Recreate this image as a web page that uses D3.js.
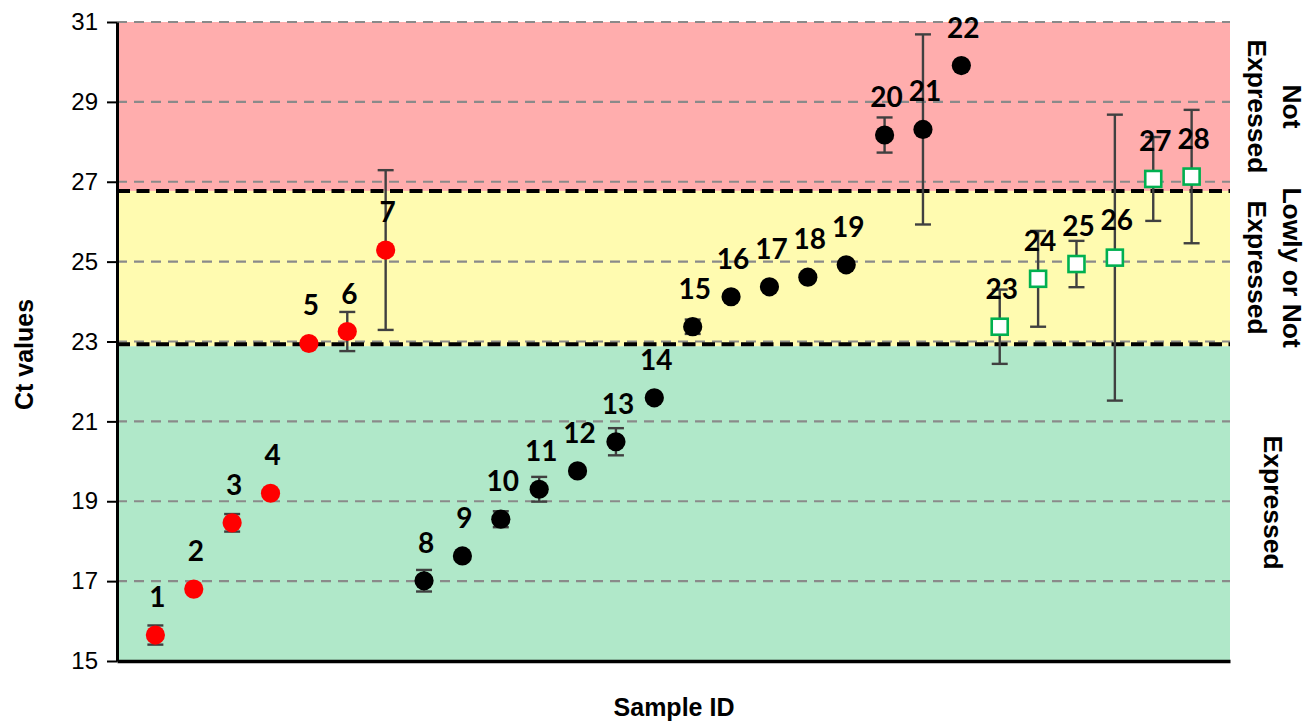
<!DOCTYPE html>
<html>
<head>
<meta charset="utf-8">
<script src="https://cdn.jsdelivr.net/npm/d3@7"></script>
<style>
  html, body { margin: 0; padding: 0; background: #fff; }
  svg { display: block; }
</style>
</head>
<body>
<svg id="chart" width="1311" height="721"></svg>
<script>
// ---- Data ----
const sampleIds = d3.range(1, 29);
const ctValues = [15.65, 16.80, 18.46, 19.20, 22.95, 23.25, 25.29, 17.01, 17.63, 18.55,
                  19.30, 19.76, 20.49, 21.59, 23.37, 24.12, 24.37, 24.61, 24.92, 28.17,
                  28.31, 29.91, 23.37, 24.57, 24.94, 25.10, 27.07, 27.13];
const ctErrors = [0.24, 0.05, 0.22, 0.04, 0.02, 0.49, 2.00, 0.27, 0.05, 0.20,
                  0.31, 0.05, 0.34, 0.05, 0.18, 0.05, 0.05, 0.05, 0.06, 0.44,
                  2.38, 0.06, 0.93, 1.20, 0.58, 3.58, 1.05, 1.67];
const groups = ["red","red","red","red","red","red","red",
                "black","black","black","black","black","black","black","black","black","black","black","black","black","black","black",
                "green","green","green","green","green","green"];
const yTicks = [15, 17, 19, 21, 23, 25, 27, 29, 31];
const thresholds = [26.77, 22.93];
const bands = [
  {name: "Not expressed", hi: 31, lo: 26.77, color: "#ffadad"},
  {name: "Lowly", hi: 26.77, lo: 22.88, color: "#fffbb0"},
  {name: "Expressed", hi: 22.88, lo: 15, color: "#b0e8c9"}
];
const bandLabels = [
  {lines: ["Not", "Expressed"], mid: (31 + 26.77) / 2},
  {lines: ["Lowly or Not", "Expressed"], mid: (26.77 + 22.93) / 2},
  {lines: ["Expressed"], mid: (22.93 + 15) / 2}
];

const data = sampleIds.map((id, i) => ({id, ct: ctValues[i], err: ctErrors[i], group: groups[i]}));

// ---- Layout ----
const svg = d3.select("#chart");
const plotL = 117, plotR = 1230, plotT = 22, plotB = 661;
const x = d3.scaleLinear().domain([0, 29]).range([plotL, plotR]);
const y = d3.scaleLinear().domain([15, 31]).range([plotB, plotT]);

// Bands
svg.append("g").selectAll("rect").data(bands).join("rect")
  .attr("x", plotL).attr("width", plotR - plotL)
  .attr("y", d => y(d.hi)).attr("height", d => y(d.lo) - y(d.hi))
  .attr("fill", d => d.color);

// Grid lines
svg.append("g").selectAll("line").data(yTicks).join("line")
  .attr("x1", plotL).attr("x2", plotR)
  .attr("y1", d => y(d)).attr("y2", d => y(d))
  .attr("stroke", "#8a8a8a").attr("stroke-width", 2.2)
  .attr("stroke-dasharray", "10,7");

// Threshold lines
svg.append("g").selectAll("line").data(thresholds).join("line")
  .attr("x1", plotL).attr("x2", plotR)
  .attr("y1", d => y(d)).attr("y2", d => y(d))
  .attr("stroke", "#000").attr("stroke-width", 4)
  .attr("stroke-dasharray", "13,6.5");

// Y axis
const yAxis = d3.axisLeft(y).tickValues(yTicks).tickSize(10).tickPadding(9).tickSizeOuter(0);
const gy = svg.append("g").attr("transform", `translate(${plotL},0)`).call(yAxis);
gy.select(".domain").attr("stroke", "#000").attr("stroke-width", 3);
gy.selectAll(".tick line").attr("stroke", "#000").attr("stroke-width", 2);
gy.selectAll(".tick text").attr("font-family", "Liberation Sans, Arial, sans-serif")
  .attr("font-size", 24).attr("fill", "#000");

// X axis (line only)
const xAxis = d3.axisBottom(x).tickValues([]).tickSizeOuter(0);
const gx = svg.append("g").attr("transform", `translate(0,${plotB})`).call(xAxis);
gx.select(".domain").attr("stroke", "#000").attr("stroke-width", 3.5);

// Error bars
const eb = svg.append("g").attr("stroke", "#404040").attr("stroke-width", 2.4);
const capW = 8;
data.forEach(d => {
  const cx = x(d.id);
  eb.append("line").attr("x1", cx).attr("x2", cx).attr("y1", y(d.ct + d.err)).attr("y2", y(d.ct - d.err));
  eb.append("line").attr("x1", cx - capW).attr("x2", cx + capW).attr("y1", y(d.ct + d.err)).attr("y2", y(d.ct + d.err));
  eb.append("line").attr("x1", cx - capW).attr("x2", cx + capW).attr("y1", y(d.ct - d.err)).attr("y2", y(d.ct - d.err));
});

// Markers
const mk = svg.append("g");
mk.selectAll("circle").data(data.filter(d => d.group !== "green")).join("circle")
  .attr("cx", d => x(d.id)).attr("cy", d => y(d.ct)).attr("r", 9.6)
  .attr("fill", d => d.group === "red" ? "#ff0000" : "#000");
mk.selectAll("rect").data(data.filter(d => d.group === "green")).join("rect")
  .attr("x", d => x(d.id) - 8).attr("y", d => y(d.ct) - 8)
  .attr("width", 16).attr("height", 16)
  .attr("fill", "#fff").attr("stroke", "#00b050").attr("stroke-width", 2.6);

// Sample labels
svg.append("g").selectAll("text").data(data).join("text")
  .attr("x", d => x(d.id) + 2).attr("y", d => y(d.ct) - 28)
  .attr("text-anchor", "middle")
  .attr("font-family", "Lato, sans-serif").attr("font-weight", "bold")
  .attr("font-size", 28).attr("fill", "#000")
  .text(d => d.id);

// Axis titles
svg.append("text")
  .attr("transform", `translate(33,${(plotT + plotB) / 2 + 13}) rotate(-90)`)
  .attr("text-anchor", "middle")
  .attr("font-family", "Liberation Sans, Arial, sans-serif").attr("font-weight", "bold")
  .attr("font-size", 25).text("Ct values");
svg.append("text")
  .attr("x", 674).attr("y", 716)
  .attr("text-anchor", "middle")
  .attr("font-family", "Liberation Sans, Arial, sans-serif").attr("font-weight", "bold")
  .attr("font-size", 25).text("Sample ID");

// Band labels (rotated 90°)
const bl = svg.append("g");
bandLabels.forEach(b => {
  const n = b.lines.length;
  b.lines.forEach((line, i) => {
    const cx = n === 1 ? 1273 : (i === 0 ? 1292 : 1257);
    bl.append("text")
      .attr("transform", `translate(${cx - 9},${y(b.mid)}) rotate(90)`)
      .attr("text-anchor", "middle")
      .attr("font-family", "Liberation Sans, Arial, sans-serif").attr("font-weight", "bold")
      .attr("font-size", 26.5).text(line);
  });
});
</script>
</body>
</html>
